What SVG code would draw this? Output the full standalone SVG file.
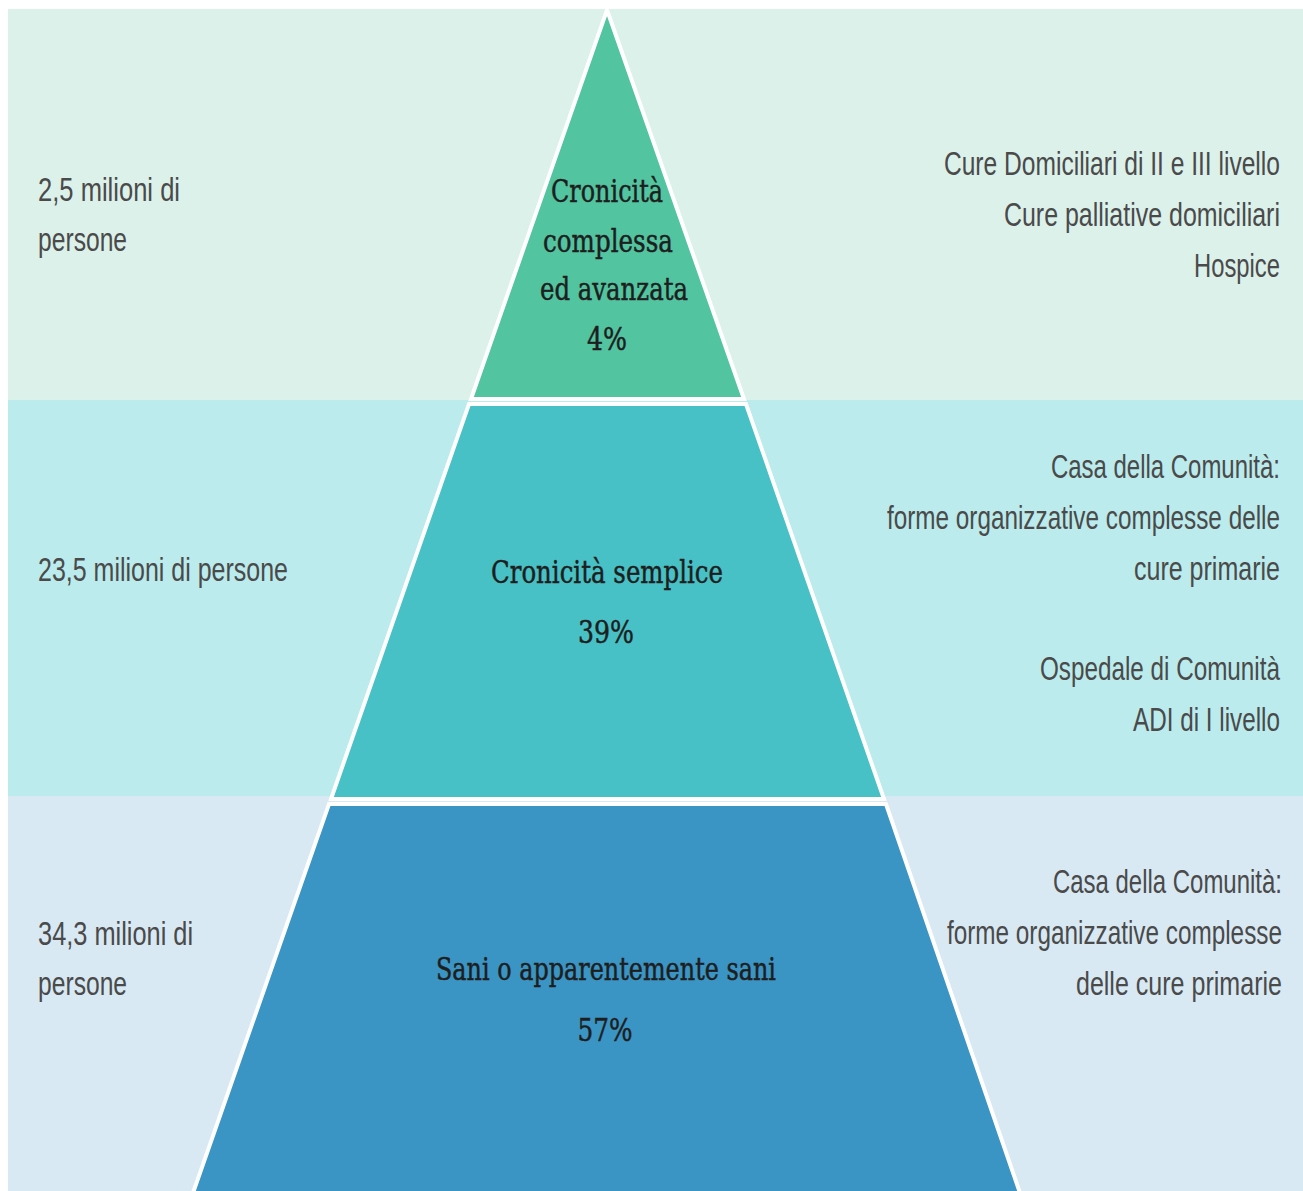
<svg xmlns="http://www.w3.org/2000/svg" width="1303" height="1191" viewBox="0 0 1303 1191">
<style>
.side{font-family:"Liberation Sans","Open Sans",sans-serif;font-size:34px;fill:#4a4a4a}
.r{text-anchor:end}
.ctr{font-family:"DejaVu Serif","Liberation Serif",serif;font-size:32px;fill:#1e1e1e;stroke:#1e1e1e;stroke-width:0.5;text-anchor:middle}
.lvl{stroke:#ffffff;stroke-width:4;stroke-linejoin:miter}
</style>
<rect width="1303" height="1191" fill="#ffffff"/>
<g id="bands">
<rect x="8" y="9" width="1295" height="391" fill="#dcf1ea"/>
<rect x="8" y="400" width="1295" height="396" fill="#bbebec"/>
<rect x="8" y="796" width="1295" height="395" fill="#d8e9f3"/>
</g>
<g id="level-top">
<polygon class="lvl" points="607,10 744,399 471,399" fill="#52c4a0"/>
<text class="ctr" x="607" y="202" textLength="112" lengthAdjust="spacingAndGlyphs">Cronicità</text>
<text class="ctr" x="608" y="252" textLength="130" lengthAdjust="spacingAndGlyphs">complessa</text>
<text class="ctr" x="614" y="300" textLength="148" lengthAdjust="spacingAndGlyphs">ed avanzata</text>
<text class="ctr" x="607" y="350" textLength="40" lengthAdjust="spacingAndGlyphs">4%</text>
</g>
<g id="level-middle">
<polygon class="lvl" points="469,404 746,404 884,799 331,799" fill="#47c1c5"/>
<text class="ctr" x="607" y="583" textLength="232" lengthAdjust="spacingAndGlyphs">Cronicità semplice</text>
<text class="ctr" x="606" y="643" textLength="56" lengthAdjust="spacingAndGlyphs">39%</text>
</g>
<g id="level-bottom">
<polygon class="lvl" points="329,804 886,804 1020,1193 193,1193" fill="#3a94c4"/>
<text class="ctr" x="606" y="980" textLength="340" lengthAdjust="spacingAndGlyphs">Sani o apparentemente sani</text>
<text class="ctr" x="605" y="1041" textLength="55" lengthAdjust="spacingAndGlyphs">57%</text>
</g>
<g id="left-labels" transform="scale(0.74,1)">
<text class="side" x="51.4" y="201" textLength="191.9" lengthAdjust="spacingAndGlyphs">2,5 milioni di</text>
<text class="side" x="51.4" y="251" textLength="120.3" lengthAdjust="spacingAndGlyphs">persone</text>
<text class="side" x="51.4" y="581" textLength="337.8" lengthAdjust="spacingAndGlyphs">23,5 milioni di persone</text>
<text class="side" x="51.4" y="945" textLength="209.5" lengthAdjust="spacingAndGlyphs">34,3 milioni di</text>
<text class="side" x="51.4" y="995" textLength="120.3" lengthAdjust="spacingAndGlyphs">persone</text>
</g>
<g id="right-labels" transform="scale(0.74,1)">
<text class="side r" x="1729.7" y="175" textLength="454.1" lengthAdjust="spacingAndGlyphs">Cure Domiciliari di II e III livello</text>
<text class="side r" x="1729.7" y="226" textLength="373.0" lengthAdjust="spacingAndGlyphs">Cure palliative domiciliari</text>
<text class="side r" x="1729.7" y="277" textLength="116.2" lengthAdjust="spacingAndGlyphs">Hospice</text>
<text class="side r" x="1729.7" y="478" textLength="309.5" lengthAdjust="spacingAndGlyphs">Casa della Comunità:</text>
<text class="side r" x="1729.7" y="529" textLength="531.1" lengthAdjust="spacingAndGlyphs">forme organizzative complesse delle</text>
<text class="side r" x="1729.7" y="580" textLength="197.3" lengthAdjust="spacingAndGlyphs">cure primarie</text>
<text class="side r" x="1729.7" y="680" textLength="324.3" lengthAdjust="spacingAndGlyphs">Ospedale di Comunità</text>
<text class="side r" x="1729.7" y="731" textLength="198.6" lengthAdjust="spacingAndGlyphs">ADI di I livello</text>
<text class="side r" x="1732.4" y="893" textLength="309.5" lengthAdjust="spacingAndGlyphs">Casa della Comunità:</text>
<text class="side r" x="1732.4" y="944" textLength="452.7" lengthAdjust="spacingAndGlyphs">forme organizzative complesse</text>
<text class="side r" x="1732.4" y="995" textLength="278.4" lengthAdjust="spacingAndGlyphs">delle cure primarie</text>
</g>
</svg>
